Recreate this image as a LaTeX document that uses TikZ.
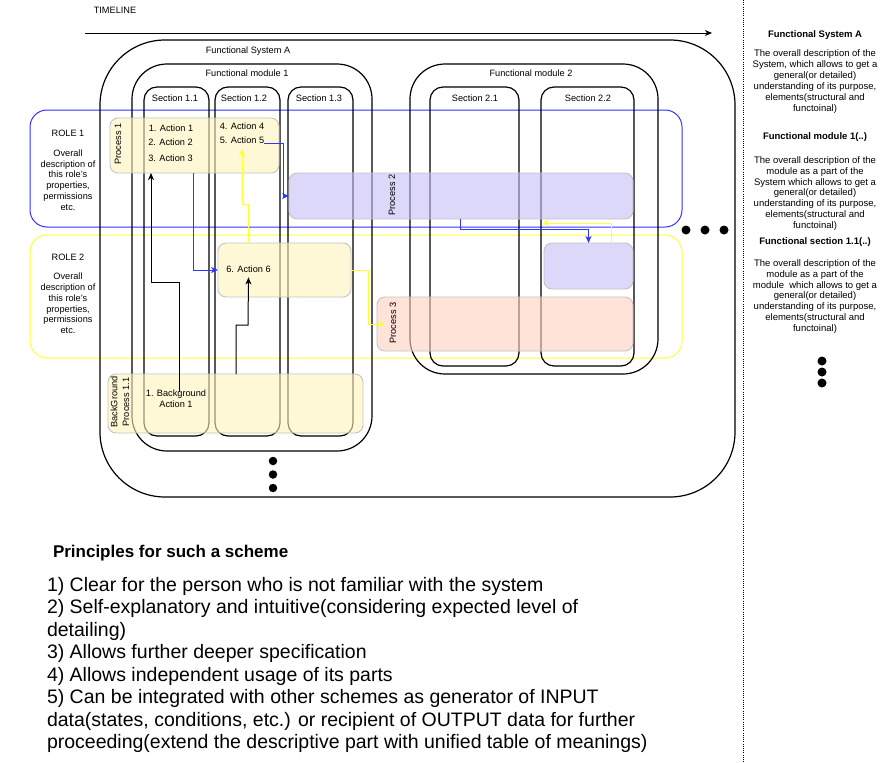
\documentclass[tikz,border=0pt]{standalone}
\usepackage{fontspec}
\setmainfont{Liberation Sans}
\usetikzlibrary{arrows.meta}
\definecolor{roleblue}{RGB}{51,51,255}
\definecolor{roleyel}{RGB}{255,255,51}
\definecolor{pyel}{RGB}{255,243,187}
\definecolor{plav}{RGB}{197,190,247}
\definecolor{psal}{RGB}{255,208,190}
\definecolor{pbord}{RGB}{195,195,195}
\begin{document}
\begin{tikzpicture}[x=1pt,y=-1pt,
  every node/.style={inner sep=0pt,outer sep=0pt},
  txt/.style={font=\fontsize{9.2}{10.8}\selectfont},
  paneltxt/.style={font=\fontsize{9.5}{10.9}\selectfont,align=center},
  panelhead/.style={font=\bfseries\fontsize{9.5}{10.9}\selectfont},
  frm/.style={draw=black,line width=1.2pt,rounded corners=#1},
  lane/.style={draw=#1,line width=1pt,rounded corners=17pt},
  procbox/.style={draw=pbord,line width=0.9pt,fill=#1,fill opacity=0.6,rounded corners=8pt},
  dotmark/.style={circle,fill=black,minimum size=#1},
  conn/.style={line width=1pt,-{Stealth[length=7pt,width=6pt,inset=2pt]}},
  blk/.style={conn,draw=black},
  blu/.style={conn,draw=roleblue},
  yel/.style={conn,draw=roleyel},
  bigtxt/.style={font=\fontsize{19.5}{22.4}\selectfont,anchor=base west},
]
\useasboundingbox (0,0) rectangle (889,763);

% swimlanes
\node[lane=roleblue,minimum width=652pt,minimum height=117pt] (role1) at (356,168.5) {};
\node[lane=roleyel,minimum width=652pt,minimum height=123pt] (role2) at (356,296.5) {};

% frames
\node[frm=65pt,minimum width=635pt,minimum height=457pt] (sysA) at (417.5,268.5) {};
\node[frm=35pt,minimum width=240pt,minimum height=387pt] (mod1) at (252,257.5) {};
\node[frm=35pt,minimum width=248pt,minimum height=310pt] (mod2) at (534,219) {};
\node[frm=13pt,minimum width=65pt,minimum height=349pt] (sec11) at (176.5,261.5) {};
\node[frm=13pt,minimum width=65pt,minimum height=349pt] (sec12) at (247.5,261.5) {};
\node[frm=13pt,minimum width=65pt,minimum height=349pt] (sec13) at (320.5,261.5) {};
\node[frm=13pt,minimum width=89pt,minimum height=279pt] (sec21) at (474.5,226.5) {};
\node[frm=13pt,minimum width=93pt,minimum height=279pt] (sec22) at (587.5,226.5) {};

% process boxes
\node[procbox=pyel,minimum width=169pt,minimum height=55pt] (p1) at (194.5,145.5) {};
\node[procbox=plav,minimum width=344pt,minimum height=46pt] (p2) at (461,196) {};
\node[procbox=plav,minimum width=89pt,minimum height=46pt] (p2b) at (588.5,266) {};
\node[procbox=pyel,minimum width=133pt,minimum height=54pt] (a6) at (284.5,270) {};
\node[procbox=psal,minimum width=256pt,minimum height=54pt] (p3) at (505,324) {};
\node[procbox=pyel,minimum width=255pt,minimum height=59pt] (bg) at (235.5,403.5) {};

% dots
\node[dotmark=8.5pt] (dm1) at (273,461) {};
\node[dotmark=8.5pt] (dm2) at (273,474.5) {};
\node[dotmark=8.5pt] (dm3) at (273,488) {};
\node[dotmark=9pt] (dr1) at (686,230) {};
\node[dotmark=9pt] (dr2) at (705,230) {};
\node[dotmark=9pt] (dr3) at (724,230) {};
\node[dotmark=9pt] (dp1) at (822,361) {};
\node[dotmark=9pt] (dp2) at (822,372) {};
\node[dotmark=9pt] (dp3) at (822,383) {};

% divider
\coordinate (divtop) at (743.5,0);
\coordinate (divbot) at (743.5,763);
\draw[line width=0.8pt,dash pattern=on 1pt off 1.2pt] (divtop) -- (divbot);

% labels in diagram
\node[txt] (tltxt) at (115,10) {TIMELINE};
\node[txt] (sysAlbl) at (248,51) {Functional System A};
\node[txt] (m1lbl) at (247,73) {Functional module 1};
\node[txt] (m2lbl) at (531,73) {Functional module 2};
\node[txt] (s11lbl) at (175,98) {Section 1.1};
\node[txt] (s12lbl) at (244,98) {Section 1.2};
\node[txt] (s13lbl) at (319,98) {Section 1.3};
\node[txt] (s21lbl) at (475,98) {Section 2.1};
\node[txt] (s22lbl) at (588,98) {Section 2.2};

\node[txt] (r1t) at (68,133) {ROLE 1};
\node[txt,align=center] (r1d) at (68,180) {Overall\\description of\\this role's\\properties,\\permissions\\etc.};
\node[txt] (r2t) at (68,257) {ROLE 2};
\node[txt,align=center] (r2d) at (68,303.5) {Overall\\description of\\this role's\\properties,\\permissions\\etc.};

\node[txt,rotate=90] (p1l) at (118,144) {Process 1};
\node[txt,rotate=90] (p2l) at (392,195) {Process 2};
\node[txt,rotate=90] (p3l) at (393,323) {Process 3};
\node[font=\fontsize{9.2}{11.8}\selectfont,rotate=90,align=center] (bgl) at (120,402) {BackGround\\Process 1.1};

\node[txt] (a1t) at (171,128) {1. Action 1};
\node[txt] (a2t) at (170.5,142) {2. Action 2};
\node[txt] (a3t) at (170.5,158) {3. Action 3};
\node[txt] (a4t) at (242,126) {4. Action 4};
\node[txt] (a5t) at (242,140.5) {5. Action 5};
\node[txt] (a6t) at (248.5,269) {6. Action 6};
\node[txt,align=center] (bgt) at (176,399) {1. Background\\Action 1};

% right panel
\node[panelhead] (rp1h) at (815,35) {Functional System A};
\node[paneltxt] (rp1d) at (815,81.5) {The overall description of the\\System, which allows to get a\\general(or detailed)\\understanding of its purpose,\\elements(structural and\\functoinal)};
\node[panelhead] (rp2h) at (815,137) {Functional module 1(..)};
\node[paneltxt] (rp2d) at (815,193.5) {The overall description of the\\module as a part of the\\System which allows to get a\\general(or detailed)\\understanding of its purpose,\\elements(structural and\\functoinal)};
\node[panelhead] (rp3h) at (815,242) {Functional section 1.1(..)};
\node[paneltxt] (rp3d) at (815,296.5) {The overall description of the\\module as a part of the\\module~ which allows to get a\\general(or detailed)\\understanding of its purpose,\\elements(structural and\\functoinal)};

% principles
\node[font=\bfseries\fontsize{17}{20}\selectfont,anchor=base west] (prh) at (53,557.5) {Principles for such a scheme};
\node[bigtxt] (pr1) at (47,591) {1) Clear for the person who is not familiar with the system};
\node[bigtxt] (pr2) at (47,613.5) {2) Self-explanatory and intuitive(considering expected level of};
\node[bigtxt] (pr3) at (47,636) {detailing)};
\node[bigtxt] (pr4) at (47,658.5) {3) Allows further deeper specification};
\node[bigtxt] (pr5) at (47,681) {4) Allows independent usage of its parts};
\node[bigtxt] (pr6) at (47,703.5) {5) Can be integrated with other schemes as generator of INPUT};
\node[bigtxt] (pr7) at (47,726) {data(states, conditions, etc.) or recipient of OUTPUT data for further};
\node[bigtxt] (pr8) at (47,748.5) {proceeding(extend the descriptive part with unified table of meanings)};

% timeline
\coordinate (tlA) at (85,33);
\coordinate (tlB) at (712,33);
\draw[blk] (tlA) -- (tlB);

% connectors
\coordinate (s1) at (179,392);
\draw[blk] (s1) |- (151,282) -- (151,0 |- p1.south);
\draw[blk] (236,0 |- bg.north) |- (248,325) -- ([yshift=-5pt]a6t.south);
\draw[blu] (193,0 |- p1.south) |- (a6.west);
\draw[blu] ([yshift=-2.5pt]a5t.east) -| (283,196) -- (p2.west);
\draw[yel] (248,0 |- a6.north) |- (242,204) -- ([yshift=-5pt]a5t.south);
\draw[blu] (460,0 |- p2.south) -- (460,229) -| (p2b.north);
\draw[yel] (611,0 |- p2b.north) |- (546,223) -- (546,0 |- p2.south);
\draw[yel] (a6.east) -| (368,324) -- ([xshift=8pt]p3.west);
\end{tikzpicture}
\end{document}
